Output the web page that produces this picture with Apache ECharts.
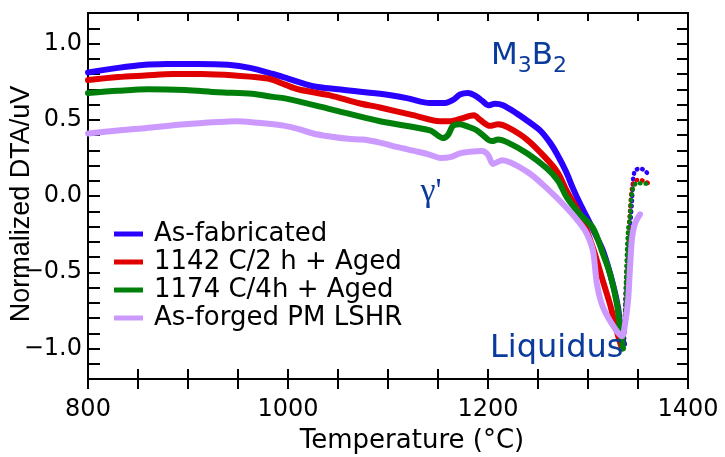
<!DOCTYPE html>
<html>
<head>
<meta charset="utf-8">
<script src="https://cdn.jsdelivr.net/npm/echarts@6/dist/echarts.min.js"></script>
<style>
  html, body { margin: 0; padding: 0; background: #ffffff; }
  #chart { width: 725px; height: 457px; }
</style>
</head>
<body>
<div id="chart"></div>
<script>
// ---------- data ----------
const seriesNames = ['As-fabricated', '1142 C/2 h + Aged', '1174 C/4h + Aged', 'As-forged PM LSHR'];
const seriesColors = ['#2a00ff', '#e00000', '#00800a', '#cc99ff'];

// As-fabricated (solid part)
const blueT = [800, 830, 857, 880, 910, 940, 962, 985, 1000, 1025, 1050, 1092, 1120, 1142, 1157, 1165, 1172, 1180, 1188, 1195, 1200, 1207, 1215, 1229, 1240, 1252, 1262, 1269, 1278, 1285, 1292, 1299, 1305, 1315, 1325, 1330, 1332, 1334, 1336];
const blueV = [0.81, 0.84, 0.86, 0.865, 0.866, 0.86, 0.84, 0.80, 0.77, 0.72, 0.70, 0.67, 0.64, 0.61, 0.61, 0.63, 0.665, 0.675, 0.655, 0.62, 0.595, 0.605, 0.595, 0.54, 0.49, 0.43, 0.35, 0.275, 0.16, 0.05, -0.05, -0.14, -0.22, -0.36, -0.58, -0.73, -0.84, -0.93, -0.97];
// As-fabricated (dotted rise after liquidus)
const blueRiseT = [1336, 1337, 1338, 1340, 1342, 1344, 1345, 1347, 1352, 1356, 1360];
const blueRiseV = [-0.97, -0.8, -0.6, -0.36, -0.21, -0.03, 0.10, 0.165, 0.18, 0.17, 0.145];

// 1142 C/2 h + Aged
const redT = [800, 830, 857, 885, 914, 947, 980, 997, 1010, 1042, 1070, 1092, 1125, 1152, 1162, 1172, 1182, 1186, 1192, 1202, 1210, 1220, 1239, 1259, 1270, 1279, 1292, 1305, 1315, 1322, 1329, 1332, 1334];
const redV = [0.76, 0.78, 0.79, 0.80, 0.80, 0.79, 0.77, 0.73, 0.70, 0.66, 0.61, 0.58, 0.53, 0.49, 0.49, 0.505, 0.525, 0.53, 0.50, 0.46, 0.47, 0.45, 0.37, 0.24, 0.15, 0.03, -0.12, -0.34, -0.56, -0.71, -0.89, -0.96, -1.0];
const redRiseT = [1334, 1336, 1338, 1340, 1342, 1344, 1347, 1352, 1360];
const redRiseV = [-1.0, -0.9, -0.6, -0.3, -0.1, 0.05, 0.10, 0.105, 0.085];

// 1174 C/4h + Aged
const greenT = [800, 830, 860, 897, 930, 964, 985, 997, 1042, 1092, 1142, 1155, 1160, 1165, 1172, 1180, 1189, 1200, 1204, 1210, 1220, 1239, 1259, 1270, 1279, 1292, 1305, 1315, 1322, 1329, 1332, 1335];
const greenV = [0.675, 0.69, 0.70, 0.695, 0.68, 0.67, 0.65, 0.64, 0.57, 0.49, 0.43, 0.38, 0.40, 0.46, 0.47, 0.455, 0.43, 0.37, 0.36, 0.37, 0.35, 0.28, 0.18, 0.10, -0.01, -0.12, -0.21, -0.38, -0.51, -0.71, -0.87, -1.0];
const greenRiseT = [1335, 1337, 1338, 1340, 1342, 1343, 1345, 1349, 1360];
const greenRiseV = [-1.0, -0.8, -0.55, -0.23, -0.14, -0.03, 0.05, 0.085, 0.08];

// As-forged PM LSHR (solid all the way)
const purpleT = [800, 830, 857, 897, 930, 947, 970, 997, 1010, 1025, 1042, 1060, 1075, 1092, 1110, 1130, 1142, 1152, 1162, 1172, 1182, 1194, 1200, 1205, 1214, 1239, 1259, 1279, 1292, 1299, 1305, 1309, 1315, 1327, 1334, 1337, 1340, 1342, 1344, 1347, 1352];
const purpleV = [0.41, 0.43, 0.445, 0.47, 0.485, 0.49, 0.48, 0.46, 0.44, 0.41, 0.39, 0.375, 0.37, 0.35, 0.32, 0.29, 0.27, 0.25, 0.255, 0.28, 0.29, 0.295, 0.27, 0.21, 0.235, 0.16, 0.05, -0.08, -0.18, -0.25, -0.36, -0.58, -0.73, -0.87, -0.92, -0.84, -0.69, -0.47, -0.28, -0.18, -0.12];

// axes
const xMin = 800, xMax = 1400, xStep = 50, xLabelEvery = 200;
const yMin = -1.2, yMax = 1.2, yStep = 0.1, yLabelEvery = 0.5;

// texts
const xTitle = 'Temperature (°C)';
const yTitle = 'Normalized DTA/uV';
const annotColor = '#0a3a9c';

// ---------- build ----------
const zip = (a, b) => a.map((t, i) => [t, b[i]]);
const FONT = 'DejaVu Sans';

const chart = echarts.init(document.getElementById('chart'), null, { renderer: 'canvas' });

function mainLine(name, color, T, V) {
  return {
    name, type: 'line', xAxisIndex: 0, yAxisIndex: 0,
    data: zip(T, V), showSymbol: false, smooth: 0.3,
    lineStyle: { color, width: 6, cap: 'round', join: 'round' },
    itemStyle: { color }, z: 3
  };
}
function riseDots(name, color, T, V) {
  return {
    name, type: 'line', xAxisIndex: 0, yAxisIndex: 0,
    data: zip(T, V), showSymbol: false, smooth: 0.3,
    lineStyle: { color, width: 4.5, type: [0.5, 5], cap: 'round' },
    itemStyle: { color }, z: 3
  };
}

const yLabelFmt = v => {
  const k = v / yLabelEvery;
  if (Math.abs(k - Math.round(k)) > 1e-6) return '';
  const s = Math.abs(v).toFixed(1);
  return v < -1e-9 ? '\u2212' + s : s;
};
const xLabelFmt = v => (Math.abs(v % xLabelEvery) < 1e-6 ? String(v) : '');

const axisBase = {
  type: 'value', splitLine: { show: false },
  axisLine: { onZero: false, lineStyle: { color: '#000', width: 2 } },
  axisTick: { lineStyle: { color: '#000', width: 2 } }
};

const option = {
  backgroundColor: '#ffffff',
  animation: false,
  grid: { left: 88, right: 37, top: 13, bottom: 78, containLabel: false },
  xAxis: [
    Object.assign({}, axisBase, {
      position: 'bottom', min: xMin, max: xMax, interval: xStep,
      axisTick: { inside: false, length: 10, lineStyle: { color: '#000', width: 2 } },
      axisLabel: { formatter: xLabelFmt, fontFamily: FONT, fontSize: 24, color: '#000', margin: 19 }
    }),
    Object.assign({}, axisBase, {
      position: 'bottom', min: xMin, max: xMax, interval: xStep,
      axisLine: { show: false, onZero: false },
      axisTick: { inside: true, length: 10, lineStyle: { color: '#000', width: 2 } },
      axisLabel: { show: false }
    }),
    Object.assign({}, axisBase, {
      position: 'top', min: xMin, max: xMax, interval: xStep,
      axisTick: { inside: true, length: 8, lineStyle: { color: '#000', width: 2 } },
      axisLabel: { show: false }
    })
  ],
  yAxis: [
    Object.assign({}, axisBase, {
      position: 'left', min: yMin, max: yMax, interval: yStep,
      axisTick: { inside: true, length: 12, lineStyle: { color: '#000', width: 2 } },
      axisLabel: { formatter: yLabelFmt, fontFamily: FONT, fontSize: 24, color: '#000', margin: 6 }
    }),
    Object.assign({}, axisBase, {
      position: 'right', min: yMin, max: yMax, interval: yStep,
      axisTick: { inside: true, length: 11, lineStyle: { color: '#000', width: 2 } },
      axisLabel: { show: false }
    })
  ],
  legend: {
    data: seriesNames.map(n => ({ name: n, icon: 'rect' })),
    orient: 'vertical', left: 109, top: 215,
    itemWidth: 29, itemHeight: 5, itemGap: 0,
    textStyle: { fontFamily: FONT, fontSize: 26, color: '#000', lineHeight: 28, padding: [0, 0, 0, 6] },
    selectedMode: false
  },
  series: [
    mainLine(seriesNames[0], seriesColors[0], blueT, blueV),
    riseDots(seriesNames[0], seriesColors[0], blueRiseT, blueRiseV),
    mainLine(seriesNames[1], seriesColors[1], redT, redV),
    riseDots(seriesNames[1], seriesColors[1], redRiseT, redRiseV),
    mainLine(seriesNames[2], seriesColors[2], greenT, greenV),
    riseDots(seriesNames[2], seriesColors[2], greenRiseT, greenRiseV),
    mainLine(seriesNames[3], seriesColors[3], purpleT, purpleV)
  ],
  graphic: [
    { type: 'text', x: 412, y: 441, silent: true,
      style: { text: xTitle, fontFamily: FONT, fontSize: 26, fill: '#000', textAlign: 'center', textVerticalAlign: 'middle' } },
    { type: 'text', x: 22, y: 204, rotation: Math.PI / 2, silent: true,
      style: { text: yTitle, fontFamily: 'Liberation Sans', fontSize: 27, fill: '#000', textAlign: 'center', textVerticalAlign: 'middle' } },
    { type: 'text', x: 491, y: 35, silent: true, z: 10,
      style: {
        text: '{a|M}{s|3}{a|B}{s|2}', textAlign: 'left', textVerticalAlign: 'top',
        rich: {
          a: { fontFamily: FONT, fontSize: 31, lineHeight: 42, verticalAlign: 'middle', fill: annotColor, color: annotColor },
          s: { fontFamily: FONT, fontSize: 22, lineHeight: 22, verticalAlign: 'bottom', fill: annotColor, color: annotColor }
        }
      } },
    { type: 'text', x: 431, y: 192, silent: true, z: 10,
      style: { text: "\u03b3'", fontFamily: 'Liberation Serif', fontSize: 34, fill: annotColor, textAlign: 'center', textVerticalAlign: 'middle' } },
    { type: 'text', x: 490, y: 349, silent: true, z: 10,
      style: { text: 'Liquidus', fontFamily: FONT, fontSize: 32, fill: annotColor, textAlign: 'left', textVerticalAlign: 'middle' } }
  ]
};

chart.setOption(option);
</script>
</body>
</html>
